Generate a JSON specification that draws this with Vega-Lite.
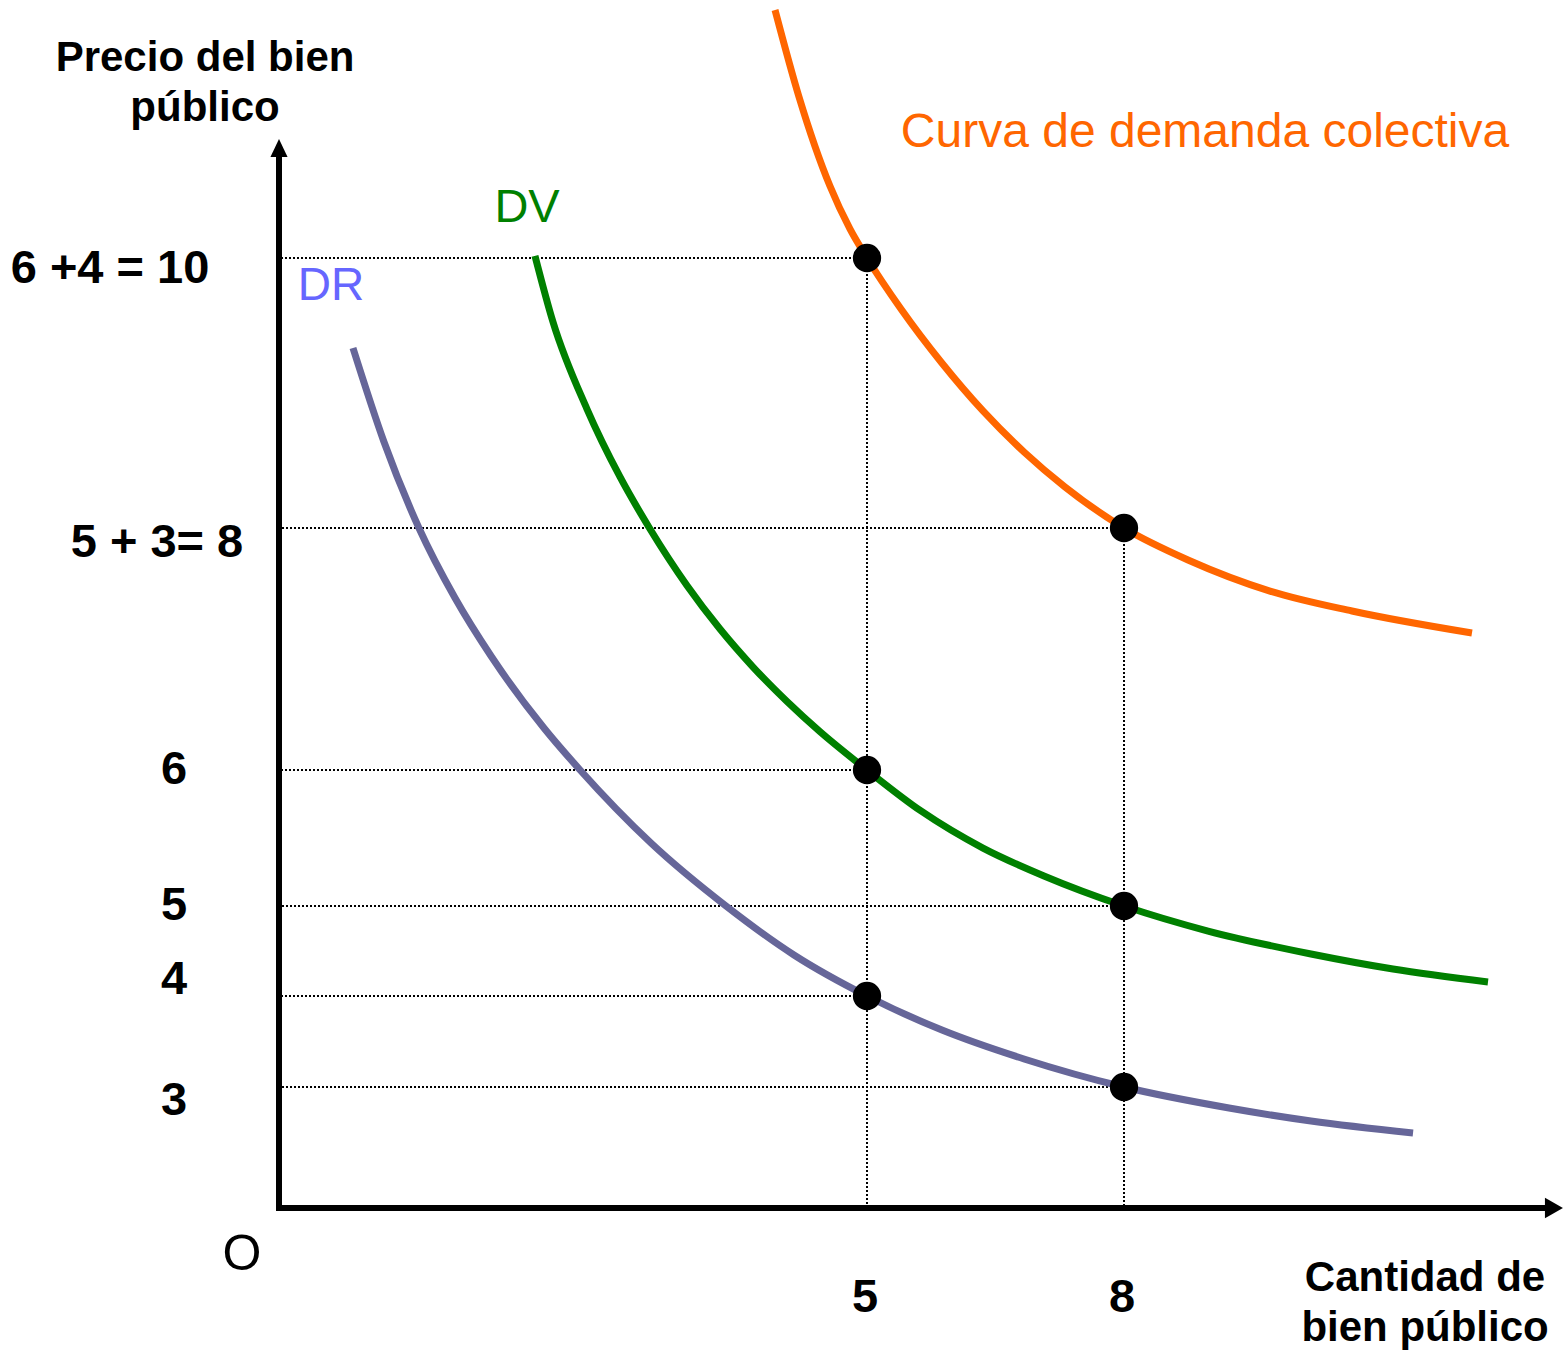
{
  "$schema": "https://vega.github.io/schema/vega-lite/v6.json",
  "width": 1566,
  "height": 1351,
  "autosize": {"type": "none"},
  "padding": 0,
  "background": "white",
  "config": {"view": {"stroke": null}, "text": {"font": "Liberation Sans"}},
  "datasets": {
    "curves": [
      {"curve": "colectiva", "q": 4.218, "p": 11.837},
      {"curve": "colectiva", "q": 4.422, "p": 11.193},
      {"curve": "colectiva", "q": 4.685, "p": 10.533},
      {"curve": "colectiva", "q": 4.855, "p": 10.215},
      {"curve": "colectiva", "q": 5, "p": 10},
      {"curve": "colectiva", "q": 5.397, "p": 9.622},
      {"curve": "colectiva", "q": 5.874, "p": 9.222},
      {"curve": "colectiva", "q": 6.354, "p": 8.867},
      {"curve": "colectiva", "q": 6.833, "p": 8.563},
      {"curve": "colectiva", "q": 7.311, "p": 8.304},
      {"curve": "colectiva", "q": 8, "p": 8},
      {"curve": "colectiva", "q": 8.747, "p": 7.736},
      {"curve": "colectiva", "q": 9.704, "p": 7.479},
      {"curve": "colectiva", "q": 10.661, "p": 7.314},
      {"curve": "colectiva", "q": 12.062, "p": 7.132},
      {"curve": "DV", "q": 2.177, "p": 10.015},
      {"curve": "DV", "q": 2.330, "p": 9.526},
      {"curve": "DV", "q": 2.619, "p": 8.881},
      {"curve": "DV", "q": 2.900, "p": 8.378},
      {"curve": "DV", "q": 3.155, "p": 7.992},
      {"curve": "DV", "q": 3.469, "p": 7.525},
      {"curve": "DV", "q": 3.750, "p": 7.165},
      {"curve": "DV", "q": 4.031, "p": 6.851},
      {"curve": "DV", "q": 4.320, "p": 6.566},
      {"curve": "DV", "q": 4.600, "p": 6.317},
      {"curve": "DV", "q": 5, "p": 6},
      {"curve": "DV", "q": 5.630, "p": 5.699},
      {"curve": "DV", "q": 6.354, "p": 5.426},
      {"curve": "DV", "q": 7.066, "p": 5.221},
      {"curve": "DV", "q": 8, "p": 5},
      {"curve": "DV", "q": 8.981, "p": 4.722},
      {"curve": "DV", "q": 10.183, "p": 4.467},
      {"curve": "DV", "q": 11.140, "p": 4.300},
      {"curve": "DV", "q": 12.249, "p": 4.156},
      {"curve": "DR", "q": 0.629, "p": 9.333},
      {"curve": "DR", "q": 0.893, "p": 8.637},
      {"curve": "DR", "q": 1.190, "p": 8},
      {"curve": "DR", "q": 1.497, "p": 7.421},
      {"curve": "DR", "q": 1.803, "p": 6.942},
      {"curve": "DR", "q": 2.253, "p": 6.347},
      {"curve": "DR", "q": 2.560, "p": 6},
      {"curve": "DR", "q": 3.163, "p": 5.463},
      {"curve": "DR", "q": 3.801, "p": 5},
      {"curve": "DR", "q": 4.379, "p": 4.456},
      {"curve": "DR", "q": 5, "p": 4},
      {"curve": "DR", "q": 5.875, "p": 3.626},
      {"curve": "DR", "q": 6.833, "p": 3.308},
      {"curve": "DR", "q": 8, "p": 3},
      {"curve": "DR", "q": 9.226, "p": 2.480},
      {"curve": "DR", "q": 10.183, "p": 2.157},
      {"curve": "DR", "q": 11.374, "p": 1.860}
    ],
    "points": [
      {"q": 5, "p": 10},
      {"q": 8, "p": 8},
      {"q": 5, "p": 6},
      {"q": 8, "p": 5},
      {"q": 5, "p": 4},
      {"q": 8, "p": 3}
    ],
    "yticks": [
      {"p": 10, "label": "6 +4 = 10"},
      {"p": 8, "label": "5 + 3= 8"},
      {"p": 6, "label": "6"},
      {"p": 5, "label": "5"},
      {"p": 4, "label": "4"},
      {"p": 3, "label": "3"}
    ],
    "xticks": [
      {"q": 5, "label": "5"},
      {"q": 8, "label": "8"}
    ]
  },
  "layer": [
    {
      "data": {"name": "points"},
      "mark": {"type": "rule", "color": "#000000", "strokeWidth": 2, "strokeDash": [2, 2]},
      "encoding": {
        "x": {"field": "q", "type": "quantitative", "scale": {"type": "linear", "domain": [0, 5, 8], "range": [279, 867, 1124], "zero": false, "nice": false}, "axis": null},
        "x2": {"datum": 0},
        "y": {"field": "p", "type": "quantitative", "scale": {"type": "linear", "domain": [0, 3, 4, 5, 6, 8, 10], "range": [1208, 1087, 996, 906, 770, 528, 258], "zero": false, "nice": false}, "axis": null}
      }
    },
    {
      "data": {"name": "points"},
      "transform": [
        {"joinaggregate": [{"op": "max", "field": "p", "as": "pmax"}], "groupby": ["q"]},
        {"filter": "datum.p == datum.pmax"}
      ],
      "mark": {"type": "rule", "color": "#000000", "strokeWidth": 2, "strokeDash": [2, 2]},
      "encoding": {
        "x": {"field": "q", "type": "quantitative", "scale": {"type": "linear", "domain": [0, 5, 8], "range": [279, 867, 1124], "zero": false, "nice": false}, "axis": null},
        "y": {"field": "p", "type": "quantitative", "scale": {"type": "linear", "domain": [0, 3, 4, 5, 6, 8, 10], "range": [1208, 1087, 996, 906, 770, 528, 258], "zero": false, "nice": false}, "axis": null},
        "y2": {"datum": 0}
      }
    },
    {
      "data": {"values": [{}]},
      "mark": {"type": "rule", "color": "#000000", "strokeWidth": 6, "strokeCap": "square"},
      "encoding": {
        "x": {"datum": 0, "type": "quantitative", "scale": {"type": "linear", "domain": [0, 5, 8], "range": [279, 867, 1124], "zero": false, "nice": false}, "axis": null},
        "y": {"datum": 0, "type": "quantitative", "scale": {"type": "linear", "domain": [0, 3, 4, 5, 6, 8, 10], "range": [1208, 1087, 996, 906, 770, 528, 258], "zero": false, "nice": false}, "axis": null},
        "y2": {"datum": 10.76}
      }
    },
    {
      "data": {"values": [{}]},
      "mark": {"type": "rule", "color": "#000000", "strokeWidth": 6, "strokeCap": "square"},
      "encoding": {
        "x": {"datum": 0, "type": "quantitative", "scale": {"type": "linear", "domain": [0, 5, 8], "range": [279, 867, 1124], "zero": false, "nice": false}, "axis": null},
        "x2": {"datum": 12.96},
        "y": {"datum": 0, "type": "quantitative", "scale": {"type": "linear", "domain": [0, 3, 4, 5, 6, 8, 10], "range": [1208, 1087, 996, 906, 770, 528, 258], "zero": false, "nice": false}, "axis": null}
      }
    },
    {
      "data": {"values": [{}]},
      "mark": {"type": "point", "shape": "M0,-1L0.95,1L-0.95,1Z", "filled": true, "color": "#000000", "opacity": 1, "size": 324, "strokeWidth": 0},
      "encoding": {
        "x": {"datum": 0, "type": "quantitative", "scale": {"type": "linear", "domain": [0, 5, 8], "range": [279, 867, 1124], "zero": false, "nice": false}, "axis": null},
        "y": {"datum": 10.815, "type": "quantitative", "scale": {"type": "linear", "domain": [0, 3, 4, 5, 6, 8, 10], "range": [1208, 1087, 996, 906, 770, 528, 258], "zero": false, "nice": false}, "axis": null}
      }
    },
    {
      "data": {"values": [{}]},
      "mark": {"type": "point", "shape": "M1,0L-1,1.15L-1,-1.15Z", "filled": true, "color": "#000000", "opacity": 1, "size": 324, "strokeWidth": 0},
      "encoding": {
        "x": {"datum": 13.019, "type": "quantitative", "scale": {"type": "linear", "domain": [0, 5, 8], "range": [279, 867, 1124], "zero": false, "nice": false}, "axis": null},
        "y": {"datum": 0, "type": "quantitative", "scale": {"type": "linear", "domain": [0, 3, 4, 5, 6, 8, 10], "range": [1208, 1087, 996, 906, 770, 528, 258], "zero": false, "nice": false}, "axis": null}
      }
    },
    {
      "data": {"name": "curves"},
      "mark": {"type": "line", "interpolate": "monotone", "strokeWidth": 7},
      "encoding": {
        "x": {"field": "q", "type": "quantitative", "scale": {"type": "linear", "domain": [0, 5, 8], "range": [279, 867, 1124], "zero": false, "nice": false}, "axis": null},
        "y": {"field": "p", "type": "quantitative", "scale": {"type": "linear", "domain": [0, 3, 4, 5, 6, 8, 10], "range": [1208, 1087, 996, 906, 770, 528, 258], "zero": false, "nice": false}, "axis": null},
        "color": {"field": "curve", "type": "nominal", "scale": {"domain": ["DR", "DV", "colectiva"], "range": ["#666699", "#008000", "#FF6600"]}, "legend": null}
      }
    },
    {
      "data": {"name": "points"},
      "mark": {"type": "circle", "color": "#000000", "opacity": 1, "size": 800},
      "encoding": {
        "x": {"field": "q", "type": "quantitative", "scale": {"type": "linear", "domain": [0, 5, 8], "range": [279, 867, 1124], "zero": false, "nice": false}, "axis": null},
        "y": {"field": "p", "type": "quantitative", "scale": {"type": "linear", "domain": [0, 3, 4, 5, 6, 8, 10], "range": [1208, 1087, 996, 906, 770, 528, 258], "zero": false, "nice": false}, "axis": null}
      }
    },
    {
      "data": {"name": "yticks"},
      "transform": [{"filter": "datum.p == 10"}],
      "mark": {"type": "text", "fontSize": 47, "fontWeight": "bold", "color": "#000000", "align": "center", "baseline": "middle", "dx": -169, "dy": 11},
      "encoding": {
        "x": {"datum": 0, "type": "quantitative", "scale": {"type": "linear", "domain": [0, 5, 8], "range": [279, 867, 1124], "zero": false, "nice": false}, "axis": null},
        "y": {"field": "p", "type": "quantitative", "scale": {"type": "linear", "domain": [0, 3, 4, 5, 6, 8, 10], "range": [1208, 1087, 996, 906, 770, 528, 258], "zero": false, "nice": false}, "axis": null},
        "text": {"field": "label"}
      }
    },
    {
      "data": {"name": "yticks"},
      "transform": [{"filter": "datum.p == 8"}],
      "mark": {"type": "text", "fontSize": 47, "fontWeight": "bold", "color": "#000000", "align": "center", "baseline": "middle", "dx": -122, "dy": 15},
      "encoding": {
        "x": {"datum": 0, "type": "quantitative", "scale": {"type": "linear", "domain": [0, 5, 8], "range": [279, 867, 1124], "zero": false, "nice": false}, "axis": null},
        "y": {"field": "p", "type": "quantitative", "scale": {"type": "linear", "domain": [0, 3, 4, 5, 6, 8, 10], "range": [1208, 1087, 996, 906, 770, 528, 258], "zero": false, "nice": false}, "axis": null},
        "text": {"field": "label"}
      }
    },
    {
      "data": {"name": "yticks"},
      "transform": [{"filter": "datum.p == 6 || datum.p == 5"}],
      "mark": {"type": "text", "fontSize": 47, "fontWeight": "bold", "color": "#000000", "align": "center", "baseline": "middle", "dx": -105, "dy": 0},
      "encoding": {
        "x": {"datum": 0, "type": "quantitative", "scale": {"type": "linear", "domain": [0, 5, 8], "range": [279, 867, 1124], "zero": false, "nice": false}, "axis": null},
        "y": {"field": "p", "type": "quantitative", "scale": {"type": "linear", "domain": [0, 3, 4, 5, 6, 8, 10], "range": [1208, 1087, 996, 906, 770, 528, 258], "zero": false, "nice": false}, "axis": null},
        "text": {"field": "label"}
      }
    },
    {
      "data": {"name": "yticks"},
      "transform": [{"filter": "datum.p == 4"}],
      "mark": {"type": "text", "fontSize": 47, "fontWeight": "bold", "color": "#000000", "align": "center", "baseline": "middle", "dx": -105, "dy": -16},
      "encoding": {
        "x": {"datum": 0, "type": "quantitative", "scale": {"type": "linear", "domain": [0, 5, 8], "range": [279, 867, 1124], "zero": false, "nice": false}, "axis": null},
        "y": {"field": "p", "type": "quantitative", "scale": {"type": "linear", "domain": [0, 3, 4, 5, 6, 8, 10], "range": [1208, 1087, 996, 906, 770, 528, 258], "zero": false, "nice": false}, "axis": null},
        "text": {"field": "label"}
      }
    },
    {
      "data": {"name": "yticks"},
      "transform": [{"filter": "datum.p == 3"}],
      "mark": {"type": "text", "fontSize": 47, "fontWeight": "bold", "color": "#000000", "align": "center", "baseline": "middle", "dx": -105, "dy": 14},
      "encoding": {
        "x": {"datum": 0, "type": "quantitative", "scale": {"type": "linear", "domain": [0, 5, 8], "range": [279, 867, 1124], "zero": false, "nice": false}, "axis": null},
        "y": {"field": "p", "type": "quantitative", "scale": {"type": "linear", "domain": [0, 3, 4, 5, 6, 8, 10], "range": [1208, 1087, 996, 906, 770, 528, 258], "zero": false, "nice": false}, "axis": null},
        "text": {"field": "label"}
      }
    },
    {
      "data": {"name": "xticks"},
      "mark": {"type": "text", "fontSize": 47, "fontWeight": "bold", "color": "#000000", "align": "center", "baseline": "middle", "dx": -2, "dy": 90},
      "encoding": {
        "x": {"field": "q", "type": "quantitative", "scale": {"type": "linear", "domain": [0, 5, 8], "range": [279, 867, 1124], "zero": false, "nice": false}, "axis": null},
        "y": {"datum": 0, "type": "quantitative", "scale": {"type": "linear", "domain": [0, 3, 4, 5, 6, 8, 10], "range": [1208, 1087, 996, 906, 770, 528, 258], "zero": false, "nice": false}, "axis": null},
        "text": {"field": "label"}
      }
    },
    {
      "data": {"values": [{}]},
      "mark": {"type": "text", "fontSize": 50, "color": "#000000", "align": "center", "baseline": "middle"},
      "encoding": {
        "x": {"datum": -0.315, "type": "quantitative", "scale": {"type": "linear", "domain": [0, 5, 8], "range": [279, 867, 1124], "zero": false, "nice": false}, "axis": null},
        "y": {"datum": -1.165, "type": "quantitative", "scale": {"type": "linear", "domain": [0, 3, 4, 5, 6, 8, 10], "range": [1208, 1087, 996, 906, 770, 528, 258], "zero": false, "nice": false}, "axis": null},
        "text": {"value": "O"}
      }
    },
    {
      "data": {"values": [{}]},
      "mark": {"type": "text", "fontSize": 42, "fontWeight": "bold", "color": "#000000", "align": "center", "baseline": "middle", "lineHeight": 50},
      "encoding": {
        "x": {"datum": -0.629, "type": "quantitative", "scale": {"type": "linear", "domain": [0, 5, 8], "range": [279, 867, 1124], "zero": false, "nice": false}, "axis": null},
        "y": {"datum": 11.482, "type": "quantitative", "scale": {"type": "linear", "domain": [0, 3, 4, 5, 6, 8, 10], "range": [1208, 1087, 996, 906, 770, 528, 258], "zero": false, "nice": false}, "axis": null},
        "text": {"value": ["Precio del bien", "público"]}
      }
    },
    {
      "data": {"values": [{}]},
      "mark": {"type": "text", "fontSize": 42, "fontWeight": "bold", "color": "#000000", "align": "center", "baseline": "middle", "lineHeight": 50},
      "encoding": {
        "x": {"datum": 11.514, "type": "quantitative", "scale": {"type": "linear", "domain": [0, 5, 8], "range": [279, 867, 1124], "zero": false, "nice": false}, "axis": null},
        "y": {"datum": -1.735, "type": "quantitative", "scale": {"type": "linear", "domain": [0, 3, 4, 5, 6, 8, 10], "range": [1208, 1087, 996, 906, 770, 528, 258], "zero": false, "nice": false}, "axis": null},
        "text": {"value": ["Cantidad de", "bien público"]}
      }
    },
    {
      "data": {"values": [{}]},
      "mark": {"type": "text", "fontSize": 48, "color": "#FF6600", "align": "center", "baseline": "middle"},
      "encoding": {
        "x": {"datum": 8.946, "type": "quantitative", "scale": {"type": "linear", "domain": [0, 5, 8], "range": [279, 867, 1124], "zero": false, "nice": false}, "axis": null},
        "y": {"datum": 10.926, "type": "quantitative", "scale": {"type": "linear", "domain": [0, 3, 4, 5, 6, 8, 10], "range": [1208, 1087, 996, 906, 770, 528, 258], "zero": false, "nice": false}, "axis": null},
        "text": {"value": "Curva de demanda colectiva"}
      }
    },
    {
      "data": {"values": [{}]},
      "mark": {"type": "text", "fontSize": 47, "color": "#008000", "align": "center", "baseline": "middle"},
      "encoding": {
        "x": {"datum": 2.109, "type": "quantitative", "scale": {"type": "linear", "domain": [0, 5, 8], "range": [279, 867, 1124], "zero": false, "nice": false}, "axis": null},
        "y": {"datum": 10.370, "type": "quantitative", "scale": {"type": "linear", "domain": [0, 3, 4, 5, 6, 8, 10], "range": [1208, 1087, 996, 906, 770, 528, 258], "zero": false, "nice": false}, "axis": null},
        "text": {"value": "DV"}
      }
    },
    {
      "data": {"values": [{}]},
      "mark": {"type": "text", "fontSize": 46, "color": "#6666FF", "align": "center", "baseline": "middle"},
      "encoding": {
        "x": {"datum": 0.442, "type": "quantitative", "scale": {"type": "linear", "domain": [0, 5, 8], "range": [279, 867, 1124], "zero": false, "nice": false}, "axis": null},
        "y": {"datum": 9.793, "type": "quantitative", "scale": {"type": "linear", "domain": [0, 3, 4, 5, 6, 8, 10], "range": [1208, 1087, 996, 906, 770, 528, 258], "zero": false, "nice": false}, "axis": null},
        "text": {"value": "DR"}
      }
    }
  ]
}
